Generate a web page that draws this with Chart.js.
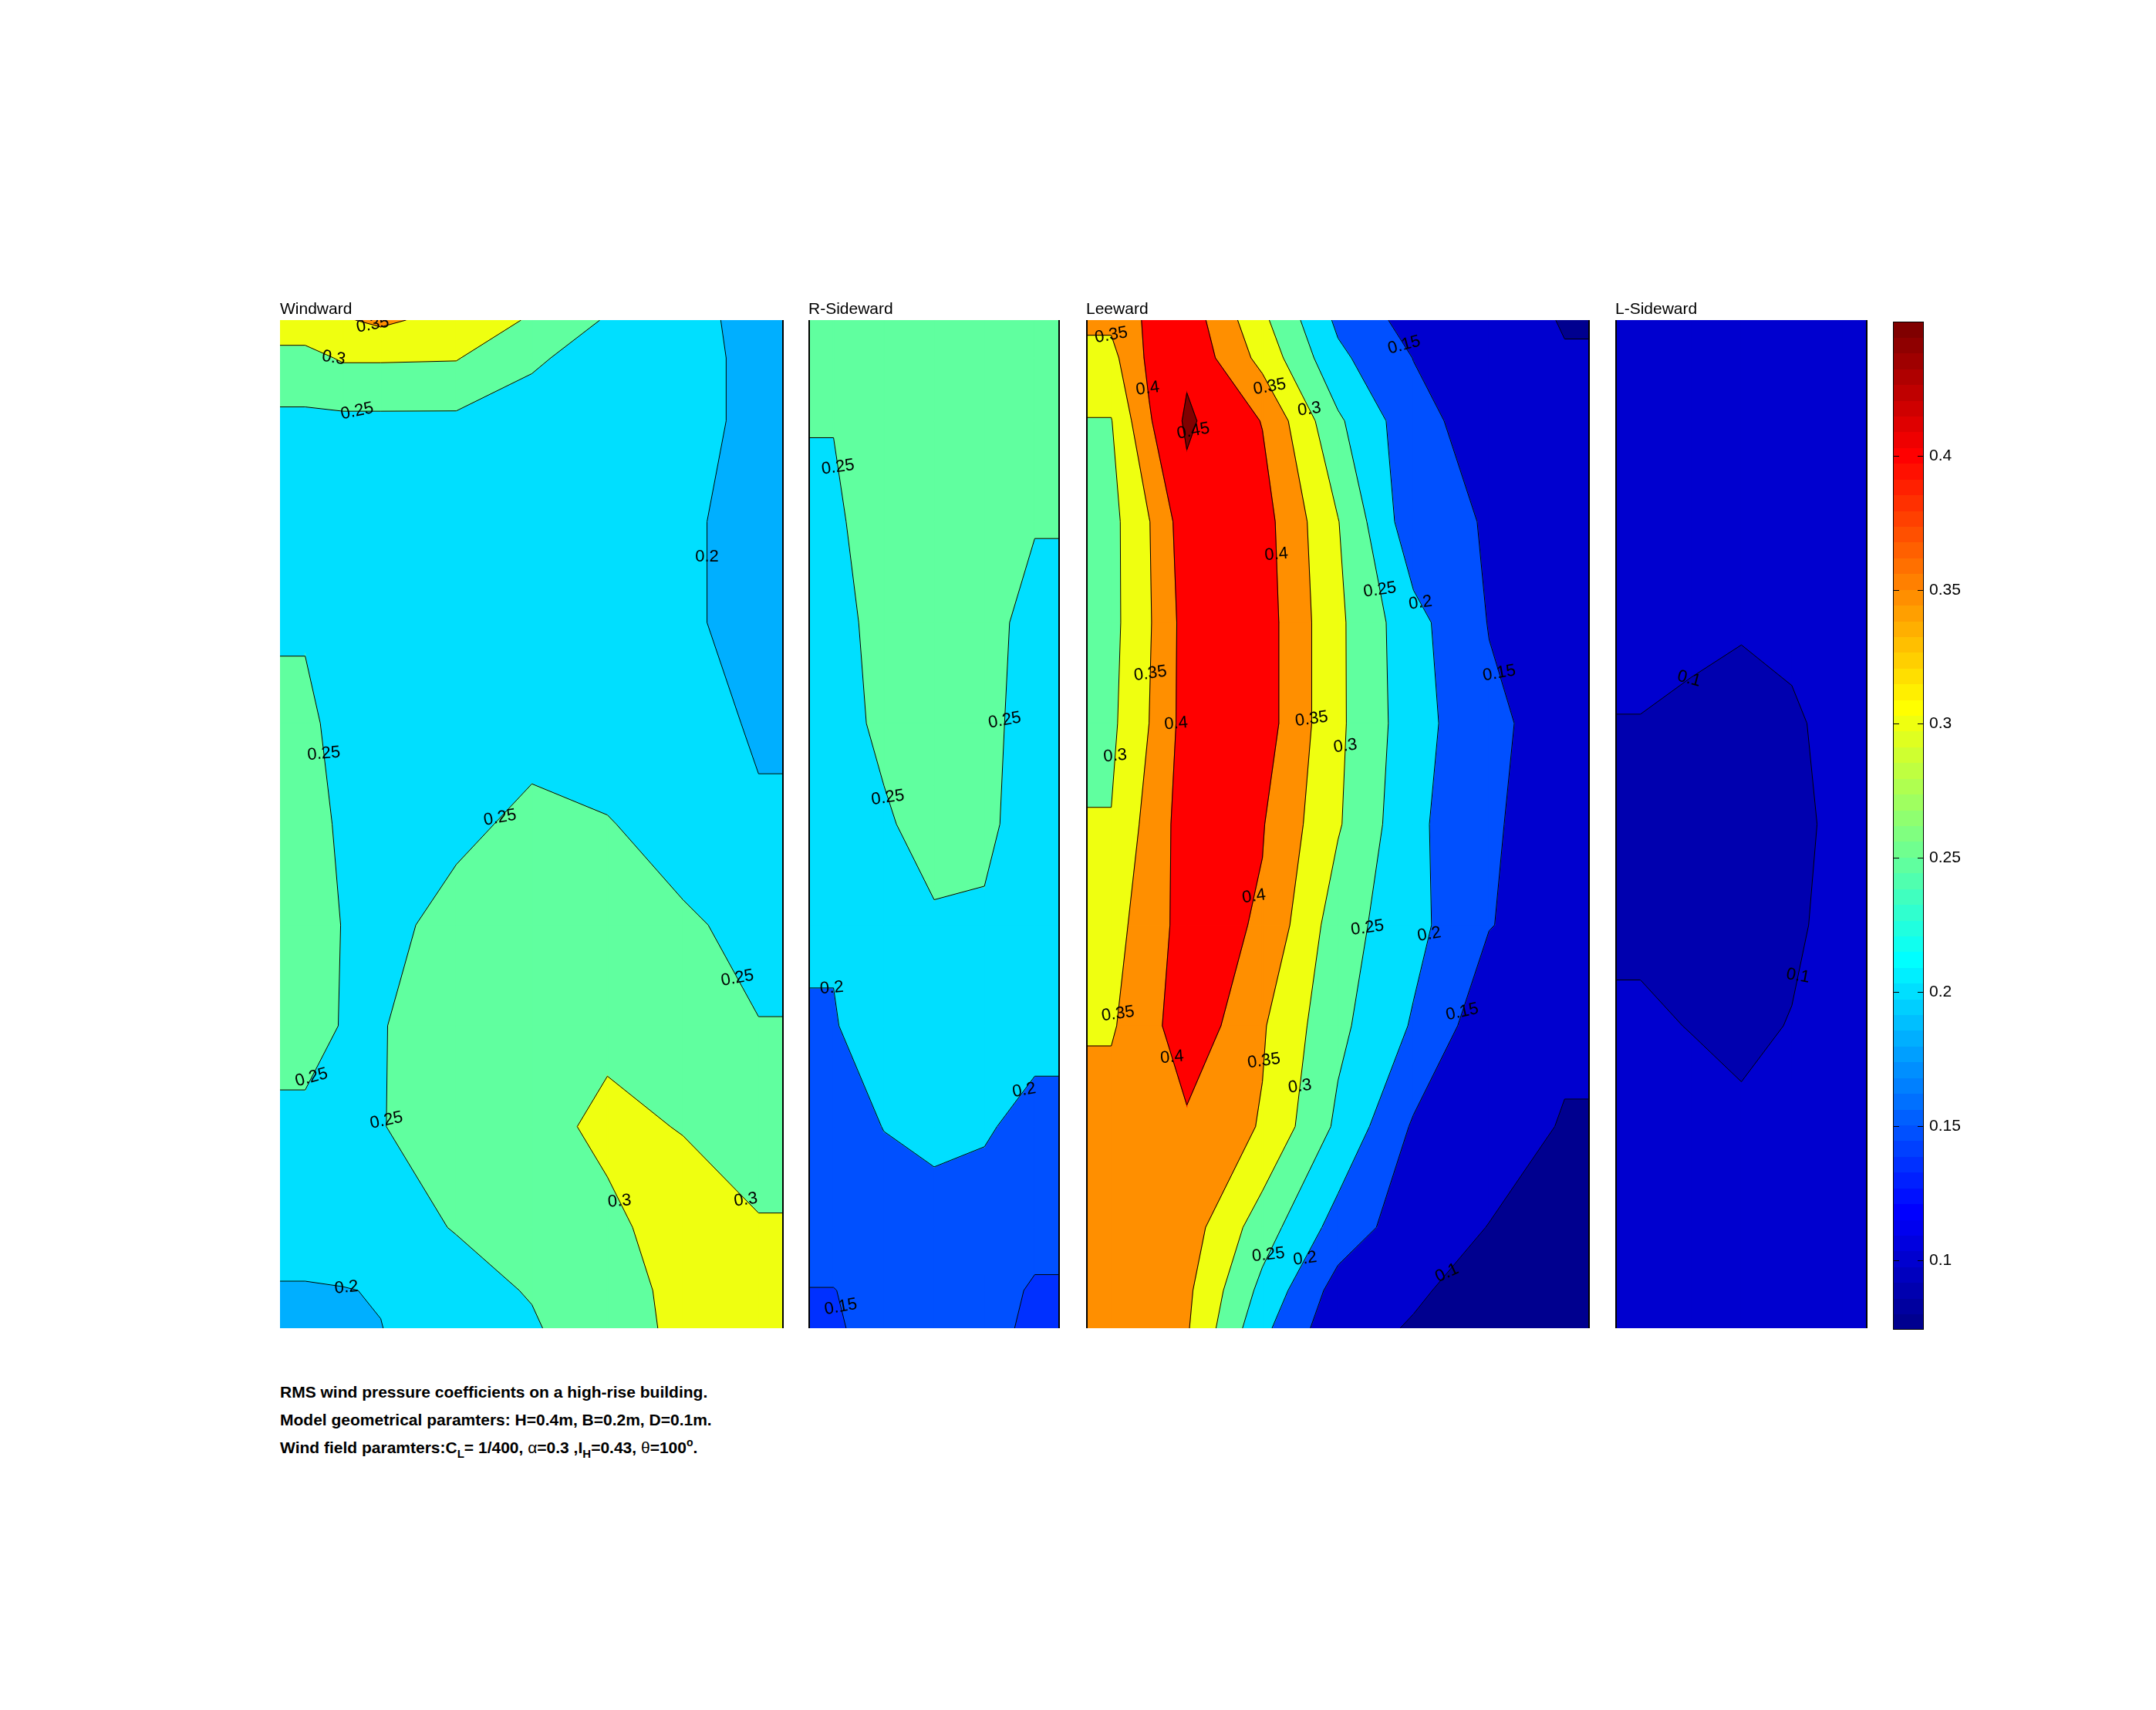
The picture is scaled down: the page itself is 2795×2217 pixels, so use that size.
<!DOCTYPE html>
<html>
<head>
<meta charset="utf-8">
<script src="https://cdn.jsdelivr.net/npm/chart.js@4.4.1/dist/chart.umd.min.js"></script>
<style>
  html, body { margin: 0; padding: 0; background: #fff; }
  body { width: 2795px; height: 2217px; position: relative; overflow: hidden; font-family: "Liberation Sans", Arial, sans-serif; }
  canvas { position: absolute; }
  .note { position: absolute; left: 363px; font-weight: bold; font-size: 21px; line-height: 24px; white-space: nowrap; color: #000; }
  .note .sub { position: relative; top: 6px; font-size: 15px; }
  .note .sup { position: relative; top: -9px; font-size: 14px; }
  .note .sym { font-weight: normal; }
</style>
</head>
<body>
<canvas id="windward" width="653" height="1347" style="left:363px;top:375px"></canvas>
<canvas id="rside" width="326" height="1347" style="left:1048px;top:375px"></canvas>
<canvas id="leeward" width="653" height="1347" style="left:1408px;top:375px"></canvas>
<canvas id="lside" width="327" height="1347" style="left:2094px;top:375px"></canvas>
<canvas id="cbar" width="120" height="1341" style="left:2454px;top:400px"></canvas>

<div class="note" style="top:1793px">RMS wind pressure coefficients on a high-rise building.</div>
<div class="note" style="top:1829px">Model geometrical paramters: H=0.4m, B=0.2m, D=0.1m.</div>
<div class="note" style="top:1865px">Wind field paramters:C<span class="sub">L</span>= 1/400, <span class="sym">α</span>=0.3 ,I<span class="sub">H</span>=0.43, <span class="sym">θ</span>=100<span class="sup">o</span>.</div>

<script>
// tap rows (height in m, top to bottom), H = 0.4 m
const heights = [0.4, 0.385, 0.36, 0.32, 0.28, 0.24, 0.2, 0.16, 0.12, 0.08, 0.04, 0.015, 0];
// tap columns across the faces: B = 0.2 m (wind/leeward), D = 0.1 m (sides)
const wideTaps = [0.01, 0.025, 0.04, 0.07, 0.1, 0.13, 0.16, 0.19];
const sideTaps = [0.01, 0.03, 0.05, 0.07, 0.09];

const levels = [0.1, 0.15, 0.2, 0.25, 0.3, 0.35, 0.4, 0.45];
const colorTicks = [0.1, 0.15, 0.2, 0.25, 0.3, 0.35, 0.4];
const cmin = 0.074, cmax = 0.45;

// RMS Cp, one row per height
const windward = [
  [0.33, 0.345, 0.36, 0.33, 0.295, 0.245, 0.215, 0.185],
  [0.285, 0.305, 0.305, 0.303, 0.255, 0.235, 0.22, 0.185],
  [0.24, 0.24, 0.24, 0.24, 0.235, 0.225, 0.22, 0.185],
  [0.235, 0.232, 0.23, 0.23, 0.225, 0.22, 0.207, 0.185],
  [0.248, 0.24, 0.235, 0.23, 0.23, 0.225, 0.207, 0.185],
  [0.254, 0.244, 0.238, 0.235, 0.235, 0.23, 0.21, 0.197],
  [0.26, 0.246, 0.237, 0.24, 0.26, 0.252, 0.235, 0.203],
  [0.265, 0.249, 0.237, 0.265, 0.27, 0.27, 0.255, 0.24],
  [0.257, 0.249, 0.247, 0.28, 0.285, 0.29, 0.27, 0.251],
  [0.246, 0.245, 0.248, 0.275, 0.285, 0.31, 0.298, 0.27],
  [0.235, 0.232, 0.235, 0.252, 0.275, 0.29, 0.32, 0.305],
  [0.194, 0.198, 0.203, 0.235, 0.253, 0.285, 0.31, 0.31],
  [0.192, 0.196, 0.199, 0.23, 0.245, 0.28, 0.31, 0.31]
];
const rSideward = [
  [0.265, 0.275, 0.28, 0.28, 0.275],
  [0.262, 0.272, 0.28, 0.28, 0.272],
  [0.251, 0.27, 0.28, 0.275, 0.265],
  [0.245, 0.265, 0.275, 0.265, 0.252],
  [0.24, 0.26, 0.27, 0.26, 0.24],
  [0.235, 0.258, 0.265, 0.26, 0.235],
  [0.23, 0.245, 0.265, 0.258, 0.232],
  [0.205, 0.235, 0.245, 0.245, 0.23],
  [0.197, 0.225, 0.235, 0.232, 0.215],
  [0.18, 0.201, 0.21, 0.205, 0.185],
  [0.17, 0.18, 0.185, 0.18, 0.165],
  [0.149, 0.165, 0.17, 0.168, 0.145],
  [0.145, 0.165, 0.17, 0.168, 0.138]
];
const leeward = [
  [0.36, 0.41, 0.43, 0.311, 0.19, 0.13, 0.115, 0.098],
  [0.335, 0.41, 0.44, 0.334, 0.211, 0.149, 0.125, 0.102],
  [0.298, 0.395, 0.458, 0.398, 0.258, 0.167, 0.125, 0.11],
  [0.285, 0.348, 0.43, 0.42, 0.302, 0.166, 0.147, 0.12],
  [0.285, 0.345, 0.42, 0.425, 0.31, 0.216, 0.148, 0.125],
  [0.29, 0.35, 0.42, 0.425, 0.31, 0.22, 0.16, 0.13],
  [0.302, 0.367, 0.424, 0.403, 0.305, 0.212, 0.155, 0.13],
  [0.335, 0.369, 0.425, 0.394, 0.273, 0.215, 0.152, 0.125],
  [0.345, 0.38, 0.437, 0.355, 0.262, 0.195, 0.118, 0.108],
  [0.37, 0.39, 0.39, 0.346, 0.24, 0.144, 0.12, 0.097],
  [0.37, 0.38, 0.375, 0.274, 0.18, 0.121, 0.099, 0.08],
  [0.37, 0.375, 0.36, 0.236, 0.13, 0.105, 0.085, 0.075],
  [0.37, 0.375, 0.355, 0.2125, 0.114, 0.097, 0.08, 0.075]
];
const lSideward = [
  [0.125, 0.125, 0.125, 0.125, 0.125],
  [0.12, 0.12, 0.12, 0.12, 0.12],
  [0.12, 0.12, 0.12, 0.12, 0.12],
  [0.115, 0.115, 0.115, 0.115, 0.115],
  [0.11, 0.106, 0.102, 0.105, 0.11],
  [0.099, 0.095, 0.093, 0.097, 0.107],
  [0.095, 0.092, 0.09, 0.094, 0.106],
  [0.097, 0.094, 0.092, 0.096, 0.108],
  [0.1025, 0.0995, 0.095, 0.101, 0.11],
  [0.108, 0.106, 0.104, 0.106, 0.11],
  [0.112, 0.112, 0.112, 0.112, 0.112],
  [0.115, 0.115, 0.115, 0.115, 0.115],
  [0.115, 0.115, 0.115, 0.115, 0.115]
];

// where clabel put its labels: [level, x, height, text tilt in degrees]
const windwardLabels = [
  [0.35, 0.0366, 0.3973, -10], [0.3, 0.0213, 0.385, 10], [0.25, 0.0306, 0.366, -12], [0.2, 0.1705, 0.306, 0],
  [0.25, 0.018, 0.228, -5], [0.25, 0.089, 0.201, -10], [0.25, 0.18, 0.138, -10], [0.25, 0.0153, 0.098, -15],
  [0.25, 0.0459, 0.0824, -12], [0.3, 0.1279, 0.0469, -5], [0.3, 0.184, 0.05, -8], [0.2, 0.0279, 0.0224, -5]
];
const rSideLabels = [
  [0.25, 0.0142, 0.342, -8], [0.25, 0.0814, 0.241, -10], [0.25, 0.03, 0.21, -8],
  [0.2, 0.0093, 0.135, -5], [0.2, 0.0858, 0.0944, -10], [0.15, 0.012, 0.0082, -10]
];
const leewardLabels = [
  [0.35, 0.0109, 0.3946, -10], [0.4, 0.0262, 0.373, -8], [0.45, 0.0481, 0.354, -10], [0.35, 0.0738, 0.374, -10],
  [0.3, 0.0885, 0.3645, -8], [0.15, 0.1246, 0.389, -15], [0.4, 0.0765, 0.307, -5], [0.25, 0.1202, 0.2936, -8],
  [0.2, 0.1393, 0.2914, -8], [0.15, 0.1678, 0.261, -10], [0.35, 0.0262, 0.2597, -8], [0.4, 0.041, 0.2396, -5],
  [0.35, 0.0929, 0.2417, -8], [0.3, 0.1066, 0.2308, -8], [0.3, 0.0126, 0.227, -5], [0.4, 0.0667, 0.1713, -8],
  [0.25, 0.1148, 0.1583, -8], [0.2, 0.1322, 0.1572, -10], [0.15, 0.1492, 0.1255, -12], [0.35, 0.0153, 0.1244, -8],
  [0.4, 0.029, 0.1059, -5], [0.35, 0.0727, 0.1059, -8], [0.3, 0.0842, 0.096, -8], [0.25, 0.0738, 0.0284, -6],
  [0.2, 0.0874, 0.0273, -8], [0.1, 0.1421, 0.0229, -25]
];
const lSideLabels = [[0.1, 0.029, 0.258, 15], [0.1, 0.0727, 0.1397, 10]];

const FONT = '21px "Liberation Sans", Arial, sans-serif';
const LABEL_FONT = '22px "Liberation Sans", Arial, sans-serif';

// MATLAB jet(64), value mapped through caxis [cmin cmax]
function jetK(k) {
  const t = k / 64;
  const c = a => Math.round(255 * Math.max(0, Math.min(1, a)));
  return `rgb(${c(Math.min(4 * t - 1.5, -4 * t + 4.5))},${c(Math.min(4 * t - 0.5, -4 * t + 3.5))},${c(Math.min(4 * t + 0.5, -4 * t + 2.5))})`;
}
function jet(v) {
  let k = Math.floor((v - cmin) / (cmax - cmin) * 64) + 1;
  return jetK(Math.max(1, Math.min(64, k)));
}

// part of one grid cell where value >= L, plus the contour pieces
function clipCell(pts, L) {
  const poly = [], cuts = [];
  let exitPt = null, firstEntry = null;
  for (let k = 0; k < 4; k++) {
    const a = pts[k], b = pts[(k + 1) % 4];
    const ina = a.v >= L, inb = b.v >= L;
    if (ina) poly.push(a);
    if (ina !== inb) {
      const t = (L - a.v) / (b.v - a.v);
      const q = { x: a.x + t * (b.x - a.x), y: a.y + t * (b.y - a.y) };
      poly.push(q);
      if (ina) exitPt = q;
      else if (exitPt) { cuts.push([exitPt, q]); exitPt = null; }
      else firstEntry = q;
    }
  }
  if (exitPt && firstEntry) cuts.push([exitPt, firstEntry]);
  return { poly, cuts };
}

function contourPlugin(face) {
  return {
    id: 'contourFace',
    beforeDatasetsDraw(chart) {
      const { ctx, chartArea: area, scales } = chart;
      const xs = [0, ...face.taps, face.width];
      const rows = face.values.map(r => [r[0], ...r, r[r.length - 1]]);
      const P = rows.map((r, i) => r.map((v, j) => ({
        x: scales.x.getPixelForValue(xs[j]),
        y: scales.y.getPixelForValue(heights[i]),
        v
      })));
      let zmin = Infinity;
      face.values.forEach(r => r.forEach(v => { zmin = Math.min(zmin, v); }));

      ctx.save();
      ctx.beginPath();
      ctx.rect(area.left, area.top, area.right - area.left, area.bottom - area.top);
      ctx.clip();
      // below the first level the patch takes the colour of the data minimum
      ctx.fillStyle = jet(zmin);
      ctx.fillRect(area.left, area.top, area.right - area.left, area.bottom - area.top);

      const segs = [];
      levels.filter(L => L > zmin).forEach(L => {
        ctx.fillStyle = ctx.strokeStyle = jet(L);
        ctx.lineWidth = 1.2;
        for (let i = 0; i < P.length - 1; i++) {
          for (let j = 0; j < P[i].length - 1; j++) {
            const cell = [P[i][j], P[i][j + 1], P[i + 1][j + 1], P[i + 1][j]];
            const { poly, cuts } = clipCell(cell, L);
            if (poly.length >= 3) {
              ctx.beginPath();
              poly.forEach((p, k) => k ? ctx.lineTo(p.x, p.y) : ctx.moveTo(p.x, p.y));
              ctx.closePath();
              ctx.fill();
              ctx.stroke();
            }
            cuts.forEach(s => segs.push({ L, a: s[0], b: s[1] }));
          }
        }
      });

      ctx.strokeStyle = '#000';
      ctx.lineWidth = 1;
      ctx.beginPath();
      segs.forEach(s => { ctx.moveTo(s.a.x, s.a.y); ctx.lineTo(s.b.x, s.b.y); });
      ctx.stroke();

      // patch edges along the sides
      ctx.lineWidth = 2;
      ctx.beginPath();
      if (face.edges.includes('left')) { ctx.moveTo(area.left + 1, area.top); ctx.lineTo(area.left + 1, area.bottom); }
      if (face.edges.includes('right')) { ctx.moveTo(area.right - 1, area.top); ctx.lineTo(area.right - 1, area.bottom); }
      ctx.stroke();

      // clabel text, snapped to the nearest piece of its level
      ctx.fillStyle = '#000';
      ctx.font = LABEL_FONT;
      ctx.textAlign = 'center';
      ctx.textBaseline = 'middle';
      face.labels.forEach(([L, lx, ly, tilt]) => {
        const hx = scales.x.getPixelForValue(lx), hy = scales.y.getPixelForValue(ly);
        let best = null, bd = 90;
        segs.forEach(s => {
          if (Math.abs(s.L - L) > 1e-9) return;
          const dx = s.b.x - s.a.x, dy = s.b.y - s.a.y;
          const len2 = dx * dx + dy * dy || 1e-9;
          const t = Math.max(0, Math.min(1, ((hx - s.a.x) * dx + (hy - s.a.y) * dy) / len2));
          const qx = s.a.x + t * dx, qy = s.a.y + t * dy;
          const d = Math.hypot(hx - qx, hy - qy);
          if (d < bd) { bd = d; best = { x: qx, y: qy }; }
        });
        if (!best) return;
        ctx.save();
        ctx.translate(best.x, best.y);
        ctx.rotate(tilt * Math.PI / 180);
        ctx.fillText(String(L), 0, 0);
        ctx.restore();
      });
      ctx.restore();

      ctx.save();
      ctx.fillStyle = '#000';
      ctx.font = FONT;
      ctx.textAlign = 'left';
      ctx.textBaseline = 'alphabetic';
      ctx.fillText(face.title, area.left, area.top - 8);
      ctx.restore();
    }
  };
}

function makeFace(id, face) {
  const points = [];
  heights.forEach((h, i) => face.taps.forEach((x, j) => points.push({ x, y: h, v: face.values[i][j] })));
  return new Chart(document.getElementById(id), {
    type: 'scatter',
    data: { datasets: [{ data: points, pointRadius: 0 }] },
    options: {
      responsive: false,
      animation: false,
      devicePixelRatio: 1,
      layout: { padding: { top: 40, left: 0, right: 0, bottom: 0 } },
      scales: {
        x: { type: 'linear', min: 0, max: face.width, display: false },
        y: { type: 'linear', min: 0, max: 0.4, display: false }
      },
      plugins: { legend: { display: false }, tooltip: { enabled: false } }
    },
    plugins: [contourPlugin(face)]
  });
}

makeFace('windward', { title: 'Windward', taps: wideTaps, width: 0.2, values: windward, labels: windwardLabels, edges: ['right'] });
makeFace('rside', { title: 'R-Sideward', taps: sideTaps, width: 0.1, values: rSideward, labels: rSideLabels, edges: ['left', 'right'] });
makeFace('leeward', { title: 'Leeward', taps: wideTaps, width: 0.2, values: leeward, labels: leewardLabels, edges: ['left', 'right'] });
makeFace('lside', { title: 'L-Sideward', taps: sideTaps, width: 0.1, values: lSideward, labels: lSideLabels, edges: ['left', 'right'] });

// colorbar
const colorbarPlugin = {
  id: 'colorbar',
  beforeDatasetsDraw(chart) {
    const { ctx, chartArea: a, scales: { y } } = chart;
    const step = (cmax - cmin) / 64;
    for (let k = 1; k <= 64; k++) {
      const y0 = y.getPixelForValue(cmin + (k - 1) * step);
      const y1 = y.getPixelForValue(cmin + k * step);
      ctx.fillStyle = jetK(k);
      ctx.fillRect(a.left, Math.floor(y1), a.right - a.left, Math.ceil(y0) - Math.floor(y1));
    }
    ctx.strokeStyle = '#000';
    ctx.lineWidth = 1;
    ctx.strokeRect(a.left + 0.5, a.top + 0.5, a.right - a.left - 1, a.bottom - a.top - 1);
    ctx.fillStyle = '#000';
    ctx.font = FONT;
    ctx.textAlign = 'left';
    ctx.textBaseline = 'middle';
    colorTicks.forEach(v => {
      const py = Math.round(y.getPixelForValue(v)) + 0.5;
      ctx.beginPath();
      ctx.moveTo(a.left, py); ctx.lineTo(a.left + 8, py);
      ctx.moveTo(a.right - 8, py); ctx.lineTo(a.right, py);
      ctx.stroke();
      ctx.fillText(String(v), a.right + 7, py);
    });
  }
};

new Chart(document.getElementById('cbar'), {
  type: 'scatter',
  data: { datasets: [{ data: colorTicks.map(v => ({ x: 0.5, y: v })), pointRadius: 0 }] },
  options: {
    responsive: false,
    animation: false,
    devicePixelRatio: 1,
    layout: { padding: { top: 17, left: 0, right: 80, bottom: 17 } },
    scales: {
      x: { type: 'linear', min: 0, max: 1, display: false },
      y: { type: 'linear', min: cmin, max: cmax, display: false }
    },
    plugins: { legend: { display: false }, tooltip: { enabled: false } }
  },
  plugins: [colorbarPlugin]
});
</script>
</body>
</html>
